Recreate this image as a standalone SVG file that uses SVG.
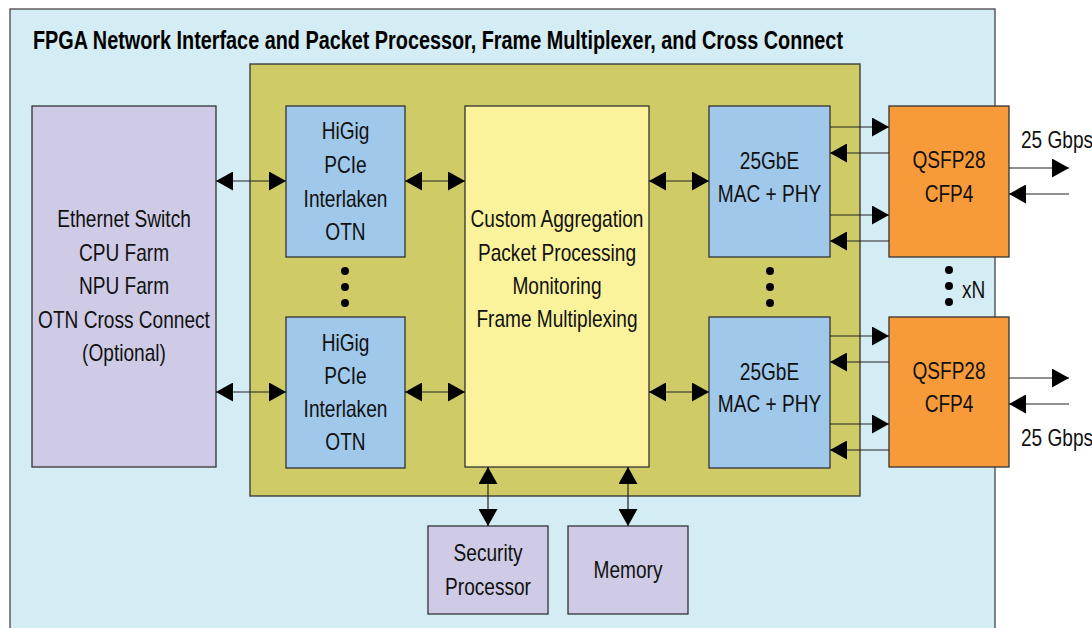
<svg xmlns="http://www.w3.org/2000/svg" width="1092" height="628" viewBox="0 0 1092 628">
<style>
.box{stroke:#333;stroke-width:1.3}
.t{font-family:"Liberation Sans Narrow","Liberation Sans",Arial,sans-serif;font-size:23px;fill:#111;text-anchor:middle;transform-box:fill-box;transform-origin:center;transform:scaleX(0.83)}
.s{text-anchor:start;transform-origin:left center}
.ln{stroke:#222;stroke-width:1.2;fill:none}
.dot{fill:#000}
</style>
<defs>
<marker id="ah" viewBox="0 0 17 19" refX="17" refY="9.5" markerWidth="17" markerHeight="19" markerUnits="userSpaceOnUse" orient="auto-start-reverse">
<path d="M0,0 L17,9.5 L0,19 z" fill="#000"/>
</marker>
</defs>
<rect width="1092" height="628" fill="#fff"/>
<g id="fpga">
<rect x="10" y="9" width="985" height="640" fill="#d4ecf3" stroke="#444" stroke-width="1.3"/>
<text x="33" y="49" font-family="'Liberation Sans Narrow','Liberation Sans',Arial,sans-serif" font-size="25" font-weight="bold" fill="#000" textLength="810" lengthAdjust="spacingAndGlyphs">FPGA Network Interface and Packet Processor, Frame Multiplexer, and Cross Connect</text>
</g>
<g id="core">
<rect class="box" x="250" y="64" width="610" height="432" fill="#cfcb66"/>
</g>
<g id="ethernet-switch">
<rect class="box" x="32" y="106" width="184" height="361" fill="#cfcbe6"/>
<text class="t" x="124" y="227">Ethernet Switch</text>
<text class="t" x="124" y="261">CPU Farm</text>
<text class="t" x="124" y="294">NPU Farm</text>
<text class="t" x="124" y="328">OTN Cross Connect</text>
<text class="t" x="124" y="361">(Optional)</text>
</g>
<g id="higig-1">
<rect class="box" x="286" y="106" width="119" height="151" fill="#9fc8ea"/>
<text class="t" x="345.5" y="139">HiGig</text>
<text class="t" x="345.5" y="173">PCIe</text>
<text class="t" x="345.5" y="207">Interlaken</text>
<text class="t" x="345.5" y="240">OTN</text>
</g>
<g id="higig-2">
<rect class="box" x="286" y="317" width="119" height="151" fill="#9fc8ea"/>
<text class="t" x="345.5" y="351">HiGig</text>
<text class="t" x="345.5" y="384">PCIe</text>
<text class="t" x="345.5" y="417">Interlaken</text>
<text class="t" x="345.5" y="450">OTN</text>
</g>
<g id="custom">
<rect class="box" x="465" y="106" width="184" height="361" fill="#faf39c"/>
<text class="t" x="557" y="227">Custom Aggregation</text>
<text class="t" x="557" y="261">Packet Processing</text>
<text class="t" x="557" y="294">Monitoring</text>
<text class="t" x="557" y="327">Frame Multiplexing</text>
</g>
<g id="mac-1">
<rect class="box" x="709" y="106" width="121" height="151" fill="#9fc8ea"/>
<text class="t" x="769.5" y="169">25GbE</text>
<text class="t" x="769.5" y="202">MAC + PHY</text>
</g>
<g id="mac-2">
<rect class="box" x="709" y="317" width="121" height="151" fill="#9fc8ea"/>
<text class="t" x="769.5" y="380">25GbE</text>
<text class="t" x="769.5" y="412">MAC + PHY</text>
</g>
<g id="qsfp-1">
<rect class="box" x="889" y="106" width="120" height="151" fill="#f79b3a"/>
<text class="t" x="949" y="168">QSFP28</text>
<text class="t" x="949" y="202">CFP4</text>
</g>
<g id="qsfp-2">
<rect class="box" x="889" y="317" width="120" height="150" fill="#f79b3a"/>
<text class="t" x="949" y="379">QSFP28</text>
<text class="t" x="949" y="412">CFP4</text>
</g>
<g id="security">
<rect class="box" x="428" y="526" width="120" height="88" fill="#cfcbe6"/>
<text class="t" x="488" y="561">Security</text>
<text class="t" x="488" y="595">Processor</text>
</g>
<g id="memory">
<rect class="box" x="568" y="526" width="120" height="88" fill="#cfcbe6"/>
<text class="t" x="628" y="578">Memory</text>
</g>
<g id="connectors">
<line class="ln" x1="216" y1="181" x2="286" y2="181" marker-start="url(#ah)" marker-end="url(#ah)"/>
<line class="ln" x1="405" y1="181" x2="465" y2="181" marker-start="url(#ah)" marker-end="url(#ah)"/>
<line class="ln" x1="216" y1="392" x2="286" y2="392" marker-start="url(#ah)" marker-end="url(#ah)"/>
<line class="ln" x1="405" y1="392" x2="465" y2="392" marker-start="url(#ah)" marker-end="url(#ah)"/>
<line class="ln" x1="649" y1="181" x2="709" y2="181" marker-start="url(#ah)" marker-end="url(#ah)"/>
<line class="ln" x1="649" y1="392" x2="709" y2="392" marker-start="url(#ah)" marker-end="url(#ah)"/>
<line class="ln" x1="830" y1="127" x2="889" y2="127" marker-end="url(#ah)"/>
<line class="ln" x1="889" y1="153" x2="830" y2="153" marker-end="url(#ah)"/>
<line class="ln" x1="830" y1="215" x2="889" y2="215" marker-end="url(#ah)"/>
<line class="ln" x1="889" y1="241" x2="830" y2="241" marker-end="url(#ah)"/>
<line class="ln" x1="830" y1="336" x2="889" y2="336" marker-end="url(#ah)"/>
<line class="ln" x1="889" y1="362" x2="830" y2="362" marker-end="url(#ah)"/>
<line class="ln" x1="830" y1="424" x2="889" y2="424" marker-end="url(#ah)"/>
<line class="ln" x1="889" y1="450" x2="830" y2="450" marker-end="url(#ah)"/>
<line class="ln" x1="1009" y1="168" x2="1069" y2="168" stroke="#555" marker-end="url(#ah)"/>
<line class="ln" x1="1069" y1="194" x2="1009" y2="194" marker-end="url(#ah)"/>
<line class="ln" x1="1009" y1="378" x2="1069" y2="378" marker-end="url(#ah)"/>
<line class="ln" x1="1069" y1="404" x2="1009" y2="404" marker-end="url(#ah)"/>
<line class="ln" x1="488" y1="467" x2="488" y2="526" marker-start="url(#ah)" marker-end="url(#ah)"/>
<line class="ln" x1="628" y1="467" x2="628" y2="526" marker-start="url(#ah)" marker-end="url(#ah)"/>
</g>
<g id="ellipses">
<circle class="dot" cx="345" cy="271" r="4"/>
<circle class="dot" cx="345" cy="287" r="4"/>
<circle class="dot" cx="345" cy="303" r="4"/>
<circle class="dot" cx="770" cy="271" r="4"/>
<circle class="dot" cx="770" cy="287" r="4"/>
<circle class="dot" cx="770" cy="303" r="4"/>
<circle class="dot" cx="949" cy="270" r="4"/>
<circle class="dot" cx="949" cy="286" r="4"/>
<circle class="dot" cx="949" cy="302" r="4"/>
</g>
<g id="labels">
<text class="t s" x="1021" y="148">25 Gbps</text>
<text class="t s" x="1021" y="446">25 Gbps</text>
<text class="t s" x="962" y="298">xN</text>
</g>
</svg>
